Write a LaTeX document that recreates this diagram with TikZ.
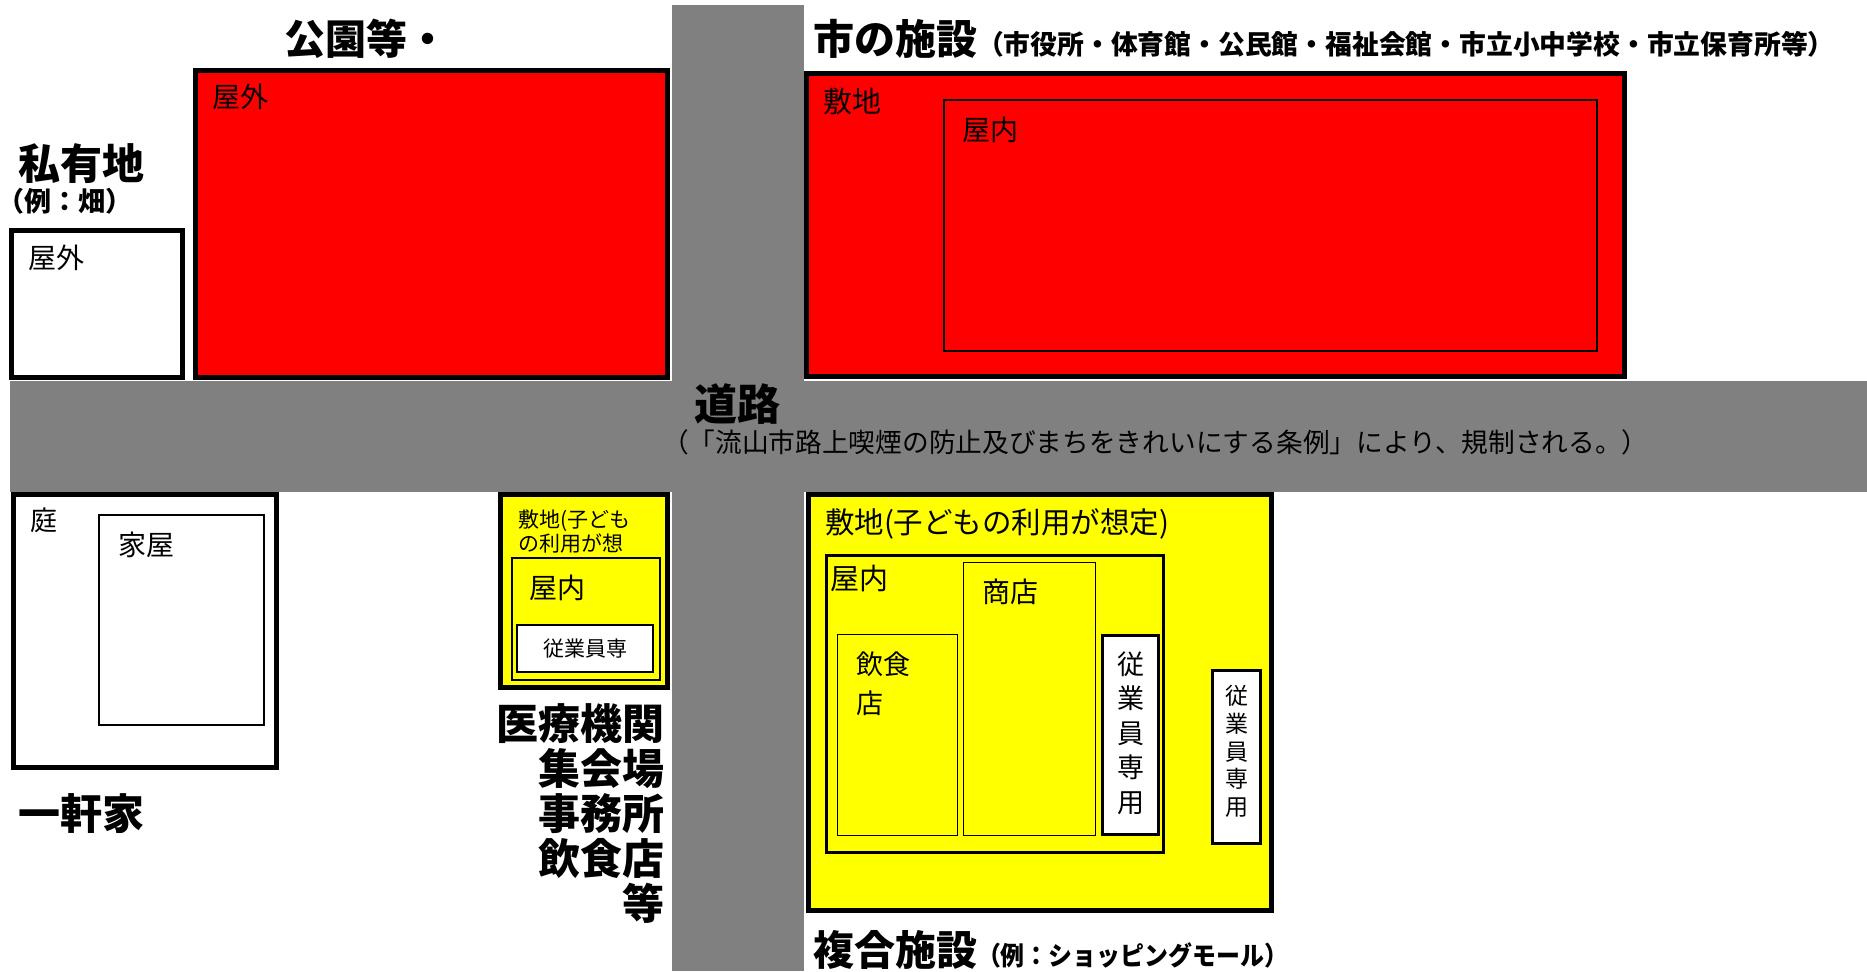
\documentclass[tikz,border=0pt]{standalone}
\usepackage{fontspec}
\setmainfont{Noto Sans CJK JP}
\usepackage{graphicx}
\newcommand\fs[1]{\fontsize{#1}{#1}\selectfont}
\definecolor{roadgray}{HTML}{808080}
\definecolor{redfill}{HTML}{FF0000}
\definecolor{yelfill}{HTML}{FFFF00}
\tikzset{
  road/.style={fill=roadgray, draw=none},
  thickbox/.style={draw=black, line width=5pt},
  midbox/.style={draw=black, line width=3pt},
  thinbox/.style={draw=black, line width=2pt},
  hairbox/.style={draw=black, line width=1.5pt},
  lbl/.style={inner sep=0pt, outer sep=0pt, anchor=base west},
  lble/.style={inner sep=0pt, outer sep=0pt, anchor=base east},
  title/.style={lbl, font=\fs{42}\bfseries},
}
\begin{document}
\begin{tikzpicture}[x=1pt,y=-1pt]
\useasboundingbox[fill=white] (0,0) rectangle (1867,971);
% roads
\fill[road] (672,5) rectangle (804,971);
\fill[road] (10,381) rectangle (1867,492);
% top-left private land
\draw[thickbox, fill=white] (11.5,230.5) rectangle (182.5,377.5);
\node[lbl, font=\fs{28}] (pout) at (28,268) {屋外};
\node[title] (ptitle) at (18,179) {私有地};
\node[lbl, font=\fs{27}\bfseries] (psub) at (-2,211) {（例：畑）};
% park
\draw[thickbox, fill=redfill] (195.5,70.5) rectangle (667.5,377.5);
\node[lbl, font=\fs{28}] (kout) at (212,108) {屋外};
\node[title, font=\fs{41}\bfseries] (ktitle) at (284,55) {公園等・};
% city facility
\draw[thickbox, fill=redfill] (806.5,73.5) rectangle (1624.5,376.5);
\draw[thinbox] (944,100) rectangle (1597,351);
\node[lbl, font=\fs{29}] (cland) at (823,113) {敷地};
\node[lbl, font=\fs{28}] (cin) at (962,140) {屋内};
\node[lbl] (ctitle) at (813,55) {{\fs{41}\bfseries 市の施設}{\fs{26.8}\bfseries （市役所・体育館・公民館・福祉会館・市立小中学校・市立保育所等）}};
% road labels
\node[lbl, font=\fs{43}\bfseries] (rtitle) at (694,420) {道路};
\node[lbl, font=\fs{26.7}] (rsub) at (662,452) {（「流山市路上喫煙の防止及びまちをきれいにする条例」により、規制される。）};
% house
\draw[thickbox, fill=white] (13.5,494.5) rectangle (276.5,767.5);
\draw[thinbox] (99,515) rectangle (264,725);
\node[lbl, font=\fs{27}] (hyard) at (30,530) {庭};
\node[lbl, font=\fs{28}] (hin) at (118,555) {家屋};
\node[title] (htitle) at (18,829) {一軒家};
% medical etc.
\draw[thickbox, fill=yelfill] (500.5,494.5) rectangle (667.5,687.5);
\draw[draw=black, line width=2.5pt] (512,558) rectangle (660,680);
\draw[thinbox, fill=white] (517,625) rectangle (653,672);
\node[lbl, font=\fs{21}] (mland1) at (518,527) {敷地(子ども};
\node[lbl, font=\fs{21}] (mland2) at (518,551) {の利用が想};
\node[lbl, font=\fs{28}] (min) at (529,598) {屋内};
\node[inner sep=0pt, anchor=base, font=\fs{21}] (mstaff) at (585,656) {従業員専};
\node[lble, font=\fs{42}\bfseries] (mt1) at (664,739) {医療機関};
\node[lble, font=\fs{42}\bfseries] (mt2) at (664,784) {集会場};
\node[lble, font=\fs{42}\bfseries] (mt3) at (664,829) {事務所};
\node[lble, font=\fs{42}\bfseries] (mt4) at (664,874) {飲食店};
\node[lble, font=\fs{42}\bfseries] (mt5) at (664,919) {等};
% shopping mall
\draw[thickbox, fill=yelfill] (808.5,494.5) rectangle (1271.5,910.5);
\draw[midbox] (826.5,555.5) rectangle (1163.5,852.5);
\draw[hairbox] (837.5,634.5) rectangle (957.5,835.5);
\draw[hairbox] (963.5,562.5) rectangle (1095.5,835.5);
\draw[midbox, fill=white] (1102.5,635.5) rectangle (1158.5,834.5);
\draw[midbox, fill=white] (1212.5,670.5) rectangle (1260.5,843.5);
\node[lbl, font=\fs{29.5}] (sland) at (825,533) {敷地(子どもの利用が想定)};
\node[lbl, font=\fs{29}] (sin) at (830,589) {屋内};
\node[lbl, font=\fs{27}] (sfood1) at (856,674) {飲食};
\node[lbl, font=\fs{27}] (sfood2) at (856,713) {店};
\node[lbl, font=\fs{28}] (sshop) at (982,602) {商店};
\node[inner sep=0pt, align=center, font=\fontsize{27}{34.4}\selectfont] (sstaff1) at (1130.5,733) {従\\業\\員\\専\\用};
\node[inner sep=0pt, align=center, font=\fontsize{23}{27.7}\selectfont] (sstaff2) at (1236.5,751.5) {従\\業\\員\\専\\用};
\node[lbl] (stitle) at (813,965) {{\fs{41}\bfseries 複合施設}\scalebox{0.92}[1]{\fs{26}\bfseries （例：ショッピングモール）}};
\end{tikzpicture}
\end{document}
